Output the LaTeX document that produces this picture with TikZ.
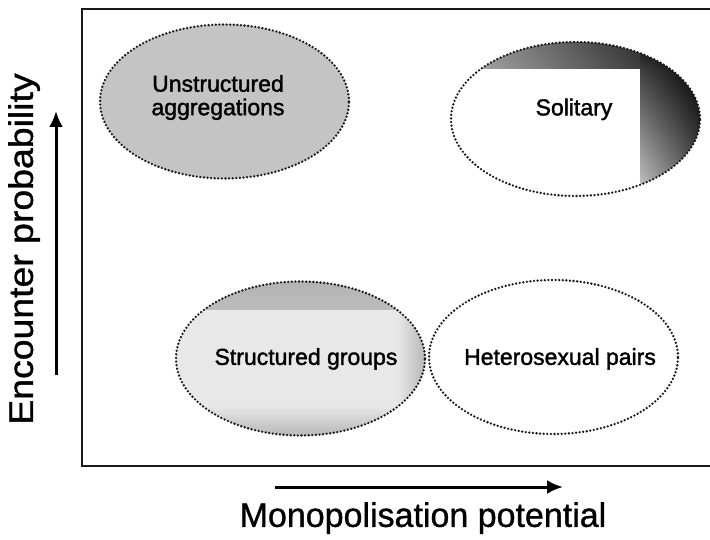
\documentclass[tikz,border=0pt]{standalone}
\usepackage{fontspec}
\setmainfont{Liberation Sans}
\newfontfamily\ellfont{Liberation Sans}[FakeBold=1.6]
\newfontfamily\axfont{Liberation Sans}[FakeBold=1.0]
\usetikzlibrary{shapes.geometric,arrows.meta,calc,shadings}
\begin{document}
\begin{tikzpicture}[x=1pt,y=-1pt,
  ell/.style={ellipse, minimum width=249pt, minimum height=154pt, inner sep=0pt,
    draw=black!90, line width=2.6pt, dash pattern=on 0pt off 3.6pt, line cap=round},
  etext/.style={font=\ellfont\fontsize{23}{23.5}\selectfont, align=center, inner sep=0pt},
  axisarrow/.style={line width=3pt, -{Latex[length=16pt,width=14pt]}},
  axislabel/.style={font=\axfont\fontsize{34}{40}\selectfont, inner sep=0pt},
  frameline/.style={line width=1.6pt, black!90}]
\useasboundingbox (0,0) rectangle (710,540);
\fill[white] (0,0) rectangle (710,540);

% frame
\coordinate (ftr) at (710,9);
\coordinate (ftl) at (82,9);
\coordinate (fbl) at (82,466);
\coordinate (fbr) at (710,466);
\draw[frameline] (ftr) -- (ftl) -- (fbl) -- (fbr);

% ellipses
\node[ell, fill=black!23] (ua) at (224.5,101.5) {};
\node[ell, path picture={
  \shade[upper left=black!35, upper right=black!95, lower left=white, lower right=black!70]
    (path picture bounding box.north west) rectangle ($(path picture bounding box.north east)+(-60pt,-27pt)$);
  \shade[upper left=black!75, upper right=black, lower left=black!20, lower right=black!65]
    ($(path picture bounding box.north east)+(-60pt,-27pt)$) rectangle (path picture bounding box.south east);
  \shade[upper left=black!95, upper right=black, lower left=black!75, lower right=black]
    ($(path picture bounding box.north east)+(-60pt,0pt)$) rectangle ($(path picture bounding box.north east)+(0pt,-27pt)$);
  }] (sol) at (575.5,119) {};
\node[ell, fill=black!9, path picture={
  \shade[top color=black!30, bottom color=black!9]
    (path picture bounding box.north west) rectangle ($(path picture bounding box.north east)+(0pt,-28pt)$);
  \shade[bottom color=black!28, top color=black!9]
    (path picture bounding box.south east) rectangle ($(path picture bounding box.south west)+(0pt,30pt)$);
  \shade[left color=black!9, right color=black!28]
    ($(path picture bounding box.north east)+(-28pt,0pt)$) rectangle (path picture bounding box.south east);
  }] (sg) at (300.5,358.5) {};
\node[ell] (hp) at (553.5,357) {};

% texts
\node[etext] (uat) at (218,97.5) {Unstructured\\aggregations};
\node[etext, text height=16.5pt, text depth=4.8pt] (solt) at (574,109.5) {Solitary};
\node[etext, text height=16.5pt, text depth=4.8pt] (sgt) at (306,359) {Structured groups};
\node[etext, text height=16.5pt, text depth=4.8pt] (hpt) at (560,359) {Heterosexual pairs};

% axes
\coordinate (ya) at (56,375);
\coordinate (yb) at (56,111);
\draw[axisarrow] (ya) -- (yb);
\coordinate (xa) at (275,487);
\coordinate (xb) at (563,487);
\draw[axisarrow] (xa) -- (xb);

\node[axislabel, text height=24.8pt, text depth=7.1pt] (xl) at (423,518) {Monopolisation potential};
\node[axislabel, text height=24.8pt, text depth=7.1pt, rotate=90, xscale=1.1] (yl) at (24,249) {Encounter probability};
\end{tikzpicture}
\end{document}
